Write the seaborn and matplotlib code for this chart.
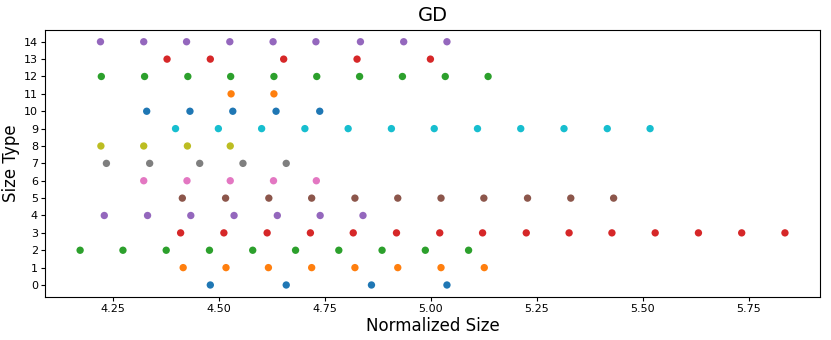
import matplotlib
matplotlib.use("Agg")
import matplotlib.pyplot as plt
import seaborn as sns
import numpy as np
import pandas as pd

# normalized sizes per size type
row0 = [4.480, 4.659, 4.860, 5.038]
row1 = [4.416, 4.517, 4.617, 4.719, 4.821, 4.922, 5.024, 5.126]
row2 = [4.173, 4.274, 4.376, 4.478, 4.580, 4.681, 4.783, 4.885, 4.987, 5.089]
row3 = [4.410, 4.512, 4.614, 4.716, 4.817, 4.919, 5.021, 5.122, 5.225, 5.326,
        5.427, 5.529, 5.631, 5.733, 5.835]
row4 = [4.230, 4.332, 4.434, 4.536, 4.638, 4.739, 4.840]
row5 = [4.414, 4.516, 4.618, 4.719, 4.821, 4.922, 5.024, 5.125, 5.228, 5.330, 5.431]
row6 = [4.323, 4.425, 4.527, 4.629, 4.730]
row7 = [4.235, 4.337, 4.455, 4.557, 4.659]
row8 = [4.222, 4.323, 4.426, 4.527]
row9 = [4.398, 4.499, 4.601, 4.703, 4.805, 4.907, 5.008, 5.110, 5.212, 5.314,
        5.416, 5.517]
row10 = [4.330, 4.432, 4.533, 4.635, 4.738]
row11 = [4.529, 4.630]
row12 = [4.223, 4.325, 4.427, 4.528, 4.630, 4.731, 4.832, 4.933, 5.034, 5.135]
row13 = [4.378, 4.480, 4.653, 4.826, 4.999]
row14 = [4.221, 4.323, 4.424, 4.526, 4.628, 4.729, 4.834, 4.936, 5.038]

rows = [row0, row1, row2, row3, row4, row5, row6, row7, row8, row9,
        row10, row11, row12, row13, row14]

data = pd.DataFrame({
    "size": [v for r in rows for v in r],
    "type": [i for i, r in enumerate(rows) for _ in r],
})

fig, ax = plt.subplots(figsize=(8.31, 3.40), dpi=100)
plt.subplots_adjust(left=0.054, right=0.987, bottom=0.126, top=0.913)

pal = sns.color_palette("tab10", 10)
colors = [pal[i % 10] for i in range(len(rows))]
sns.scatterplot(data=data, x="size", y="type", hue="type", palette=colors,
                s=28, linewidth=0, legend=False, ax=ax)

ax.set_yticks(range(len(rows)))
ax.tick_params(labelsize=8, length=3, pad=2)
ax.set_xticks([4.25, 4.5, 4.75, 5.0, 5.25, 5.5, 5.75])
ax.set_xlabel("Normalized Size", fontsize=12, labelpad=2)
ax.set_ylabel("Size Type", fontsize=12, labelpad=3)
ax.set_title("GD", fontsize=14)

plt.savefig("out.png", dpi=100)
